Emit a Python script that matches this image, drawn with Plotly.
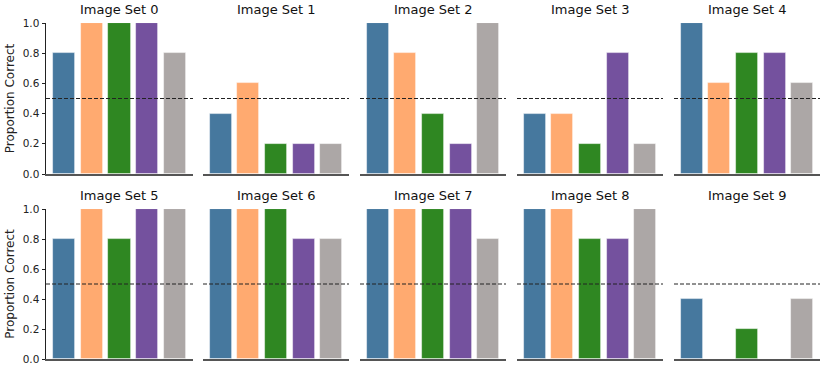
import plotly.graph_objects as go

set_titles = [f"Image Set {i}" for i in range(10)]
categories = [0, 1, 2, 3, 4]
values = [
    [0.8, 1.0, 1.0, 1.0, 0.8],
    [0.4, 0.6, 0.2, 0.2, 0.2],
    [1.0, 0.8, 0.4, 0.2, 1.0],
    [0.4, 0.4, 0.2, 0.8, 0.2],
    [1.0, 0.6, 0.8, 0.8, 0.6],
    [0.8, 1.0, 0.8, 1.0, 1.0],
    [1.0, 1.0, 1.0, 0.8, 0.8],
    [1.0, 1.0, 1.0, 1.0, 0.8],
    [1.0, 1.0, 0.8, 0.8, 1.0],
    [0.4, 0.0, 0.2, 0.0, 0.4],
]
bar_colors = ["#46789e", "#ffaa70", "#2f8722", "#74519e", "#aca7a6"]
chance_level = 0.5
y_ticks = [0.0, 0.2, 0.4, 0.6, 0.8, 1.0]

W, H = 831, 373
ML, MR, MT, MB = 46, 11, 23, 14
PW, PH = W - ML - MR, H - MT - MB
col_px = [(46, 193), (203, 349), (360, 506), (517, 663), (674, 820)]
row_px = [(23, 174), (209, 359)]

fig = go.Figure()
font_family = "DejaVu Sans"

for i in range(10):
    r, c = divmod(i, 5)
    n = i + 1
    xa = "x" if n == 1 else f"x{n}"
    ya = "y" if n == 1 else f"y{n}"
    xkey = "xaxis" if n == 1 else f"xaxis{n}"
    ykey = "yaxis" if n == 1 else f"yaxis{n}"
    fig.add_trace(go.Bar(
        x=categories, y=values[i], width=0.8,
        marker=dict(color=bar_colors, line=dict(color="rgba(255,255,255,0.6)", width=0.8)),
        xaxis=xa, yaxis=ya, showlegend=False, hoverinfo="y",
    ))
    x0, x1 = col_px[c]
    y0, y1 = row_px[r]
    fig.layout[xkey] = dict(
        domain=[(x0 - ML) / PW, (x1 - ML) / PW], range=[-0.64, 4.64], anchor=ya,
        showticklabels=False, ticks="", showgrid=False, zeroline=False,
        showline=True, linecolor="#555555", linewidth=1.5,
    )
    first_col = c == 0
    fig.layout[ykey] = dict(
        domain=[(H - MB - y1) / PH, (H - MB - y0) / PH], range=[0, 1.0], anchor=xa,
        showgrid=False, zeroline=False,
        showline=first_col, linecolor="#222222", linewidth=1,
        ticks="outside" if first_col else "", ticklen=3.5, tickcolor="#222222",
        tickvals=y_ticks, ticktext=[f"{v:.1f}" for v in y_ticks],
        showticklabels=first_col,
        tickfont=dict(size=10.5, color="#222222", family=font_family),
        title=dict(text="Proportion Correct" if first_col else "",
                   font=dict(size=12, color="#222222", family=font_family), standoff=5),
    )
    fig.add_shape(type="line", xref=f"{xa} domain", yref=ya, x0=0, x1=1,
                  y0=chance_level, y1=chance_level,
                  line=dict(color="#222222", width=1, dash="4px,2px"))
    fig.add_annotation(text=set_titles[i], xref="paper", yref="paper",
                       x=((x0 + x1) / 2 - ML) / PW, y=(H - MB - (y0 - 4)) / PH,
                       xanchor="center", yanchor="bottom", showarrow=False,
                       font=dict(size=13, color="#111111", family=font_family))

fig.update_layout(
    width=W, height=H, margin=dict(l=ML, r=MR, t=MT, b=MB, autoexpand=False),
    plot_bgcolor="white", paper_bgcolor="white", bargap=0,
    font=dict(family=font_family),
)
fig.write_html("out.html", config={"displayModeBar": False},
               post_script="document.body.style.margin='0';document.body.style.padding='0';")
